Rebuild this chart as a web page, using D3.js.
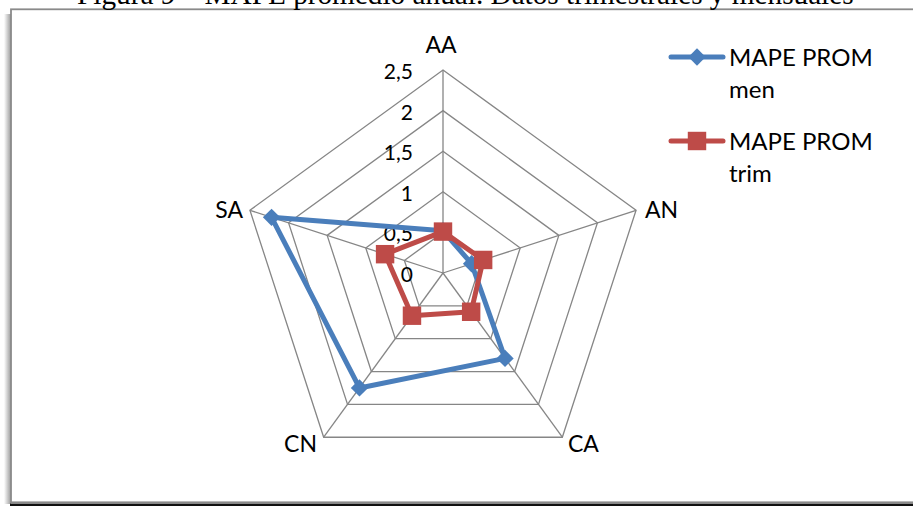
<!DOCTYPE html>
<html>
<head>
<meta charset="utf-8">
<script src="https://cdn.jsdelivr.net/npm/d3@7"></script>
<style>
  html, body { margin: 0; padding: 0; background: #fff; }
  svg { display: block; }
</style>
</head>
<body>
<svg id="chart" width="913" height="506"></svg>
<script>
// Radar chart: average annual MAPE, monthly vs quarterly data
const title = "Figura 9 – MAPE promedio anual. Datos trimestrales y mensuales";
const categories = ["AA", "AN", "CA", "CN", "SA"];
const mapeMen = [0.52, 0.37, 1.30, 1.75, 2.22];
const mapeTrim = [0.51, 0.52, 0.59, 0.65, 0.75];
const seriesNames = [["MAPE PROM", "men"], ["MAPE PROM", "trim"]];
const tickValues = [0, 0.5, 1, 1.5, 2, 2.5];
const tickLabels = ["0", "0,5", "1", "1,5", "2", "2,5"];

const W = 913, H = 506;
const cx = 443, cy = 273, R = 203;
const svg = d3.select("#chart");

const labelFont = "Lato, 'Open Sans', sans-serif";
const gridColor = "#868686";
const colors = ["#4A7EBB", "#BE4B48"];

// Frame with a soft left shadow and dark bottom edge
const defs = svg.append("defs");
const grad = defs.append("linearGradient").attr("id", "shadowL").attr("x1", 0).attr("x2", 1);
grad.append("stop").attr("offset", "0%").attr("stop-color", "#fff");
grad.append("stop").attr("offset", "100%").attr("stop-color", "#9a9a9a");
svg.append("rect").attr("x", 4).attr("y", 14).attr("width", 7).attr("height", 490).attr("fill", "url(#shadowL)");
svg.append("rect").attr("x", 10).attr("y", 503.5).attr("width", W).attr("height", 3).attr("fill", "#111");
svg.append("rect").attr("x", 11).attr("y", 9.3).attr("width", W + 20).attr("height", 493)
  .attr("fill", "#fff").attr("stroke", "#8a8a8a").attr("stroke-width", 1.8);

// Title (sits above the frame, its upper part runs off the top edge)
const t = svg.append("text").attr("x", 0).attr("y", 3.5)
  .attr("font-family", "'Liberation Serif', 'Times New Roman', serif")
  .attr("font-size", 20).attr("fill", "#000").text(title);
const w20 = t.node().getComputedTextLength();
const fs = 20 * 777 / w20;
t.attr("font-size", fs).attr("x", 77);

const r = d3.scaleLinear().domain([0, 2.5]).range([0, R]);
const angle = d3.scalePoint().domain(categories).range([0, 2 * Math.PI * (categories.length - 1) / categories.length]);
const px = (c, v) => cx + r(v) * Math.sin(angle(c));
const py = (c, v) => cy - r(v) * Math.cos(angle(c));

const g = svg.append("g");

// Pentagon rings
tickValues.filter(v => v > 0).forEach(v => {
  g.append("polygon")
    .attr("points", categories.map(c => [px(c, v), py(c, v)].join(",")).join(" "))
    .attr("fill", "none").attr("stroke", gridColor).attr("stroke-width", 1.3);
});
// Spokes
categories.forEach(c => {
  g.append("line").attr("x1", cx).attr("y1", cy)
    .attr("x2", px(c, 2.5)).attr("y2", py(c, 2.5))
    .attr("stroke", gridColor).attr("stroke-width", 1.3);
});

// Tick labels along the top spoke
g.selectAll("text.tick").data(tickValues).enter().append("text")
  .attr("class", "tick")
  .attr("x", 413).attr("y", d => cy - r(d) + 9)
  .attr("text-anchor", "end")
  .attr("font-family", labelFont).attr("font-size", 21).attr("fill", "#000")
  .text((d, i) => tickLabels[i]);

// Category labels
const catPos = {
  AA: { x: cx - 2, y: 53, anchor: "middle" },
  AN: { x: 645, y: 218, anchor: "start" },
  CA: { x: 568, y: 452, anchor: "start" },
  CN: { x: 317, y: 452, anchor: "end" },
  SA: { x: 243, y: 218, anchor: "end" }
};
categories.forEach(c => {
  g.append("text").attr("x", catPos[c].x).attr("y", catPos[c].y)
    .attr("text-anchor", catPos[c].anchor)
    .attr("font-family", labelFont).attr("font-size", 23).attr("fill", "#000")
    .text(c);
});

// Series
const line = d3.line().curve(d3.curveLinearClosed);
const diamond = d3.symbol().type(d3.symbolSquare).size(150);
const square = d3.symbol().type(d3.symbolSquare).size(340);

[mapeMen, mapeTrim].forEach((vals, si) => {
  const pts = categories.map((c, i) => [px(c, vals[i]), py(c, vals[i])]);
  g.append("path").attr("d", line(pts))
    .attr("fill", "none").attr("stroke", colors[si]).attr("stroke-width", 5)
    .attr("stroke-linejoin", "round");
  g.selectAll(null).data(pts).enter().append("path")
    .attr("d", si === 0 ? diamond : square)
    .attr("transform", d => `translate(${d[0]},${d[1]})` + (si === 0 ? " rotate(45)" : ""))
    .attr("fill", colors[si]);
});

// Legend
const legY = [57, 141];
seriesNames.forEach((nm, si) => {
  const lg = svg.append("g");
  lg.append("line").attr("x1", 671).attr("x2", 723).attr("y1", legY[si]).attr("y2", legY[si])
    .attr("stroke", colors[si]).attr("stroke-width", 5).attr("stroke-linecap", "round");
  lg.append("path").attr("d", si === 0 ? diamond : square)
    .attr("transform", `translate(697,${legY[si]})` + (si === 0 ? " rotate(45)" : ""))
    .attr("fill", colors[si]);
  const tx = lg.append("text").attr("x", 729).attr("y", legY[si] + 8.5)
    .attr("font-family", labelFont).attr("font-size", 24).attr("fill", "#000");
  tx.append("tspan").attr("x", 729).text(nm[0]);
  tx.append("tspan").attr("x", 729).attr("dy", 32).text(nm[1]);
});
</script>
</body>
</html>
